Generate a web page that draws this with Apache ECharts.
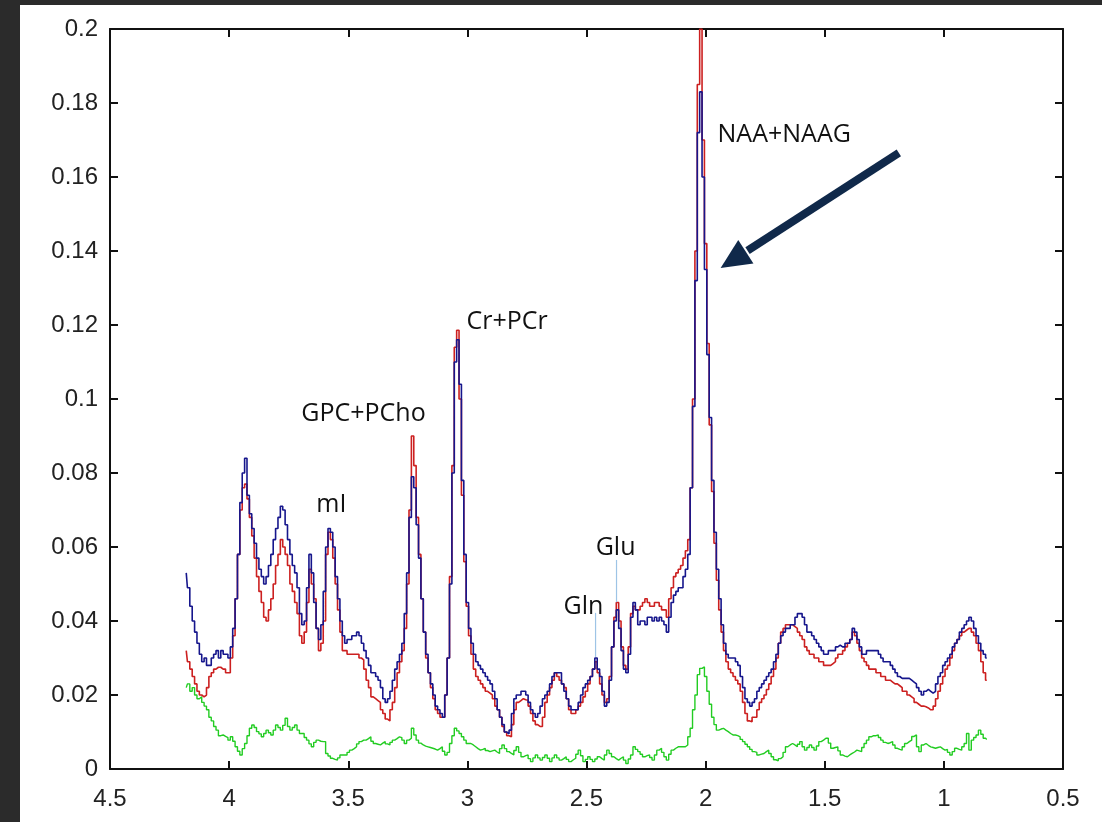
<!DOCTYPE html>
<html>
<head>
<meta charset="utf-8">
<script src="https://cdn.jsdelivr.net/npm/echarts/dist/echarts.min.js"></script>
<style>
  html, body { margin: 0; padding: 0; background: #2b2b2b; width: 1102px; height: 822px; overflow: hidden; }
  #card { position: absolute; left: 20px; top: 5px; width: 1082px; height: 817px; background: #ffffff; }
  #chart { width: 1082px; height: 817px; }
</style>
</head>
<body>
<div id="card"><div id="chart"></div></div>
<script>
// ---- sampling grid (chemical shift, ppm) ----
const ppmStart = 4.18;
const ppmStep = 0.01;

// ---- x / y tick labels ----
const xTicks = [4.5, 4, 3.5, 3, 2.5, 2, 1.5, 1, 0.5];
const yTicks = [0, 0.02, 0.04, 0.06, 0.08, 0.1, 0.12, 0.14, 0.16, 0.18, 0.2];

// ---- spectrum values, from 4.18 ppm down to 0.82 ppm in 0.01 ppm steps ----
const blueSpectrum = [
  .053,.049,.044,.040,.037,.034,.031,.029,.030,
  .028,.028,.030,.031,.032,.030,.032,.031,.031,.030,
  .033,.038,.046,.058,.072,.080,.084,.074,.069,.065,
  .061,.057,.054,.052,.050,.052,.055,.058,.062,.065,
  .068,.071,.070,.066,.062,.058,.055,.053,.049,.042,
  .039,.040,.049,.058,.053,.045,.038,.035,.039,.048,
  .060,.065,.064,.060,.052,.046,.040,.036,.034,.035,
  .035,.036,.036,.037,.036,.034,.032,.030,.028,.026,
  .026,.025,.024,.022,.019,.018,.019,.021,.024,.027,
  .029,.031,.034,.042,.053,.068,.079,.076,.066,.057,
  .046,.037,.031,.026,.023,.020,.017,.016,.015,.014,
  .020,.030,.050,.080,.110,.116,.104,.078,.058,.045,
  .038,.034,.031,.029,.028,.027,.026,.025,.024,.023,
  .021,.019,.016,.014,.012,.010,.0095,.0105,.015,.019,
  .020,.020,.021,.021,.020,.018,.016,.015,.014,.015,
  .017,.019,.020,.021,.023,.025,.026,.026,.026,.023,
  .021,.019,.017,.016,.016,.016,.018,.020,.022,.023,
  .024,.025,.027,.030,.027,.025,.021,.017,.018,.024,
  .033,.040,.043,.038,.032,.027,.026,.031,.041,.045,
  .043,.039,.040,.040,.039,.041,.041,.040,.041,.040,
  .041,.040,.039,.037,.041,.045,.047,.048,.049,.049,
  .052,.054,.058,.076,.098,.132,.172,.183,.160,.135,
  .112,.095,.078,.064,.054,.046,.039,.034,.031,.030,
  .030,.030,.029,.028,.025,.022,.019,.018,.017,.018,
  .019,.021,.022,.023,.024,.025,.026,.027,.029,.031,
  .034,.036,.037,.038,.038,.039,.039,.041,.042,.042,
  .041,.039,.037,.037,.036,.035,.034,.033,.032,.031,
  .031,.032,.032,.032,.033,.0335,.033,.033,.034,.034,
  .035,.038,.037,.035,.033,.031,.031,.032,.032,.032,
  .032,.032,.031,.030,.029,.029,.029,.028,.027,.026,
  .025,.0245,.0245,.0245,.0245,.024,.0235,.023,.022,.021,
  .020,.021,.0215,.021,.0205,.021,.023,.025,.026,.028,
  .029,.030,.031,.033,.034,.035,.037,.038,.039,.040,
  .041,.040,.038,.036,.034,.032,.031,.030
];

const redSpectrum = [
  .032,.029,.027,.025,.023,.021,.020,.0195,.020,
  .022,.025,.026,.027,.0275,.0275,.027,.027,.026,.026,
  .030,.036,.046,.058,.070,.076,.077,.073,.068,.063,
  .057,.052,.048,.045,.041,.040,.043,.046,.050,.055,
  .058,.062,.060,.058,.055,.050,.048,.045,.042,.036,
  .034,.037,.045,.054,.050,.046,.038,.032,.034,.040,
  .058,.064,.062,.057,.050,.043,.037,.032,.032,.031,
  .031,.031,.031,.031,.030,.0295,.027,.024,.022,.0195,
  .019,.0185,.018,.016,.015,.0135,.013,.016,.018,.022,
  .026,.029,.032,.038,.050,.070,.090,.082,.068,.058,
  .046,.037,.030,.026,.022,.019,.016,.015,.014,.014,
  .020,.030,.052,.082,.114,.1186,.100,.074,.056,.044,
  .036,.031,.027,.025,.024,.023,.022,.021,.0205,.020,
  .019,.017,.016,.014,.0115,.010,.009,.0087,.012,.016,
  .018,.0185,.019,.0187,.0186,.017,.015,.013,.012,.0115,
  .0115,.014,.018,.020,.022,.024,.026,.025,.024,.023,
  .022,.019,.016,.015,.015,.016,.017,.018,.0195,.021,
  .023,.025,.027,.029,.026,.023,.020,.018,.019,.025,
  .033,.041,.045,.040,.033,.028,.027,.033,.042,.044,
  .043,.043,.044,.045,.046,.045,.044,.044,.045,.045,
  .044,.043,.043,.041,.046,.049,.052,.053,.054,.055,
  .057,.059,.062,.076,.100,.140,.185,.200,.170,.142,
  .115,.093,.075,.061,.051,.043,.037,.032,.029,.027,
  .026,.025,.024,.023,.021,.018,.015,.013,.0128,.014,
  .014,.016,.018,.019,.020,.0215,.023,.025,.027,.030,
  .034,.037,.038,.039,.039,.039,.0385,.038,.037,.036,
  .035,.033,.032,.031,.031,.030,.030,.029,.029,.028,
  .028,.028,.0285,.029,.030,.031,.031,.032,.033,.034,
  .035,.037,.036,.034,.032,.030,.029,.028,.027,.027,
  .027,.026,.026,.025,.025,.024,.024,.0235,.023,.023,
  .0225,.022,.021,.021,.020,.0195,.019,.018,.0175,.017,
  .017,.0168,.0165,.016,.016,.017,.019,.021,.023,.025,
  .027,.028,.030,.032,.034,.035,.036,.037,.0375,.038,
  .038,.037,.036,.034,.032,.029,.026,.024
];

const greenSpectrum = [
  .022,.023,.021,.022,.020,.019,.0195,.018,.017,
  .016,.014,.013,.0115,.0105,.009,.0092,.0088,.0085,.0078,
  .0087,.0075,.006,.0048,.0038,.0055,.0069,.009,.011,.0119,
  .0112,.0101,.0095,.0087,.0096,.0105,.0098,.0092,.0105,.0119,
  .0112,.0105,.0118,.0137,.0115,.0105,.0112,.0119,.0105,.0096,
  .0096,.0085,.0078,.0068,.006,.0072,.0078,.0075,.0074,.0074,
  .0042,.0035,.0029,.0026,.0024,.003,.0038,.0038,.0038,.0045,
  .0051,.0055,.006,.0068,.0074,.0078,.0078,.0082,.0087,.0075,
  .0069,.0067,.0065,.007,.0074,.0068,.0065,.0072,.0078,.0082,
  .0087,.0085,.0078,.0069,.0078,.0083,.011,.0092,.0078,.007,
  .0065,.0062,.006,.0058,.0056,.0054,.0051,.0055,.006,.0048,
  .0038,.0045,.0069,.009,.011,.0103,.0096,.0087,.0078,.0069,
  .0069,.0065,.006,.0055,.0051,.0053,.0056,.005,.0047,.0049,
  .0051,.0046,.0042,.0055,.0065,.0055,.0047,.0042,.0038,.005,
  .006,.0045,.0033,.0036,.0038,.0028,.002,.003,.0038,.003,
  .0024,.0031,.0038,.0029,.002,.003,.0038,.003,.0024,.0028,
  .0033,.0026,.002,.0025,.0029,.004,.0051,.0036,.002,.0026,
  .0033,.0026,.002,.0027,.0033,.0028,.0024,.0038,.0051,.0042,
  .0033,.0028,.0024,.0029,.0033,.0024,.0015,.0027,.0038,.006,
  .0053,.0047,.004,.0033,.0036,.0038,.0031,.0024,.0038,.0051,
  .0056,.0045,.0033,.0024,.004,.0051,.0056,.006,.006,.006,
  .006,.0065,.0087,.011,.016,.020,.0255,.0272,.0276,.025,
  .021,.0175,.014,.012,.0105,.0108,.011,.0105,.0101,.0096,
  .0092,.0092,.009,.0087,.008,.0074,.0067,.006,.0053,.0047,
  .0045,.0038,.004,.0042,.0047,.0051,.0042,.0033,.0025,.0022,
  .0028,.0033,.0045,.006,.0065,.0069,.0065,.006,.0067,.0074,
  .006,.0051,.0058,.0065,.0058,.0051,.0062,.0074,.0078,.0083,
  .0083,.007,.0056,.0058,.006,.0049,.0038,.0035,.0033,.0038,
  .0042,.0046,.0051,.0049,.0047,.0058,.0069,.0078,.0087,.009,
  .009,.0092,.0085,.0078,.0072,.0069,.0071,.0074,.0065,.0056,
  .0053,.0051,.006,.0069,.0074,.0078,.0088,.0092,.006,.0047,
  .0065,.0069,.0064,.006,.0058,.0056,.0058,.006,.0055,.0051,
  .0053,.0045,.0038,.0047,.0056,.0053,.0051,.006,.0069,.0096,
  .0051,.0078,.0085,.0092,.0105,.0094,.0083,.008
];

// ---- annotations (anchored in data coordinates: ppm, value) ----
const peakLabels = [
  { text: 'NAA+NAAG', ppm: 1.95,  val: 0.1714, align: 'left' },
  { text: 'Cr+PCr',   ppm: 3.004, val: 0.1208, align: 'left' },
  { text: 'GPC+PCho', ppm: 3.697, val: 0.0959, align: 'left' },
  { text: 'mI',       ppm: 3.634, val: 0.0714, align: 'left' },
  { text: 'Glu',      ppm: 2.378, val: 0.0597, align: 'center' },
  { text: 'Gln',      ppm: 2.513, val: 0.0438, align: 'center' }
];
const leaderLines = [
  { ppm: 2.462, from: 0.0422, to: 0.0303 },
  { ppm: 2.374, from: 0.0565, to: 0.0451 }
];
const arrowTail = [1.189, 0.1665];
const arrowTip  = [1.937, 0.1354];

// ---- build ----
const ppm = blueSpectrum.map((_, i) => +(ppmStart - i * ppmStep).toFixed(2));
const pairs = arr => arr.map((v, i) => [ppm[i], v]);

const axisColor = '#111';
const labelFont = { fontSize: 24, color: '#222', fontFamily: 'Liberation Sans' };

const chart = echarts.init(document.getElementById('chart'), null, { renderer: 'canvas' });

const xBase = {
  type: 'value', min: 0.5, max: 4.5, interval: 0.5, inverse: true,
  axisLine: { onZero: false, lineStyle: { color: axisColor, width: 2 } },
  axisTick: { inside: true, length: 8, lineStyle: { color: axisColor, width: 2 } },
  splitLine: { show: false }
};
const yBase = {
  type: 'value', min: 0, max: 0.2, interval: 0.02,
  axisLine: { show: true, onZero: false, lineStyle: { color: axisColor, width: 2 } },
  axisTick: { show: true, inside: true, length: 8, lineStyle: { color: axisColor, width: 2 } },
  splitLine: { show: false }
};

chart.setOption({
  animation: false,
  grid: { left: 90, top: 24, right: 39, bottom: 53 },
  xAxis: [
    Object.assign({}, xBase, { position: 'bottom',
      axisLabel: Object.assign({ margin: 18, formatter: v => xTicks.includes(v) ? String(v) : '' }, labelFont) }),
    Object.assign({}, xBase, { position: 'top', axisLabel: { show: false } })
  ],
  yAxis: [
    Object.assign({}, yBase, { position: 'left',
      axisLabel: Object.assign({ margin: 12, formatter: v => { const t = yTicks.find(k => Math.abs(k - v) < 1e-9); return t === undefined ? '' : String(t); } }, labelFont) }),
    Object.assign({}, yBase, { position: 'right', axisLabel: { show: false } })
  ],
  series: [
    { name: 'residual', type: 'line', step: 'middle', data: pairs(greenSpectrum), showSymbol: false, xAxisIndex: 0, yAxisIndex: 0,
      lineStyle: { color: '#22cc22', width: 1.4 }, z: 2 },
    { name: 'fit', type: 'line', step: 'middle', data: pairs(redSpectrum), showSymbol: false, xAxisIndex: 0, yAxisIndex: 0,
      lineStyle: { color: '#cc2020', width: 1.6 }, z: 3 },
    { name: 'spectrum', type: 'line', step: 'middle', data: pairs(blueSpectrum), showSymbol: false, xAxisIndex: 0, yAxisIndex: 0,
      lineStyle: { color: '#16168c', width: 1.6 }, z: 4 }
  ]
});

function px(p, v) { return chart.convertToPixel({ xAxisIndex: 0, yAxisIndex: 0 }, [p, v]); }

const graphics = [];
peakLabels.forEach(l => {
  const [x, y] = px(l.ppm, l.val);
  graphics.push({ type: 'text', x: x, y: y, z: 50,
    style: { text: l.text, fill: '#111', font: '25px "Open Sans"', align: l.align, textAlign: l.align,
             verticalAlign: 'middle', textVerticalAlign: 'middle' } });
});
leaderLines.forEach(l => {
  const a = px(l.ppm, l.from), b = px(l.ppm, l.to);
  graphics.push({ type: 'line', z: 40, shape: { x1: a[0], y1: a[1], x2: b[0], y2: b[1] },
    style: { stroke: '#9ec4e6', lineWidth: 1.2 } });
});
(function () {
  const t = px(arrowTail[0], arrowTail[1]), h = px(arrowTip[0], arrowTip[1]);
  const dx = t[0] - h[0], dy = t[1] - h[1], len = Math.hypot(dx, dy);
  const ux = dx / len, uy = dy / len, nx = -uy, ny = ux;
  const headLen = 30, headHalf = 14;
  const bx = h[0] + ux * headLen, by = h[1] + uy * headLen;
  graphics.push({ type: 'line', z: 60, shape: { x1: t[0], y1: t[1], x2: bx + ux * 2, y2: by + uy * 2 },
    style: { stroke: '#10294a', lineWidth: 8 } });
  graphics.push({ type: 'polygon', z: 61,
    shape: { points: [[h[0], h[1]], [bx + nx * headHalf, by + ny * headHalf], [bx - nx * headHalf, by - ny * headHalf]] },
    style: { fill: '#10294a' } });
})();
chart.setOption({ graphic: graphics });
</script>
</body>
</html>
